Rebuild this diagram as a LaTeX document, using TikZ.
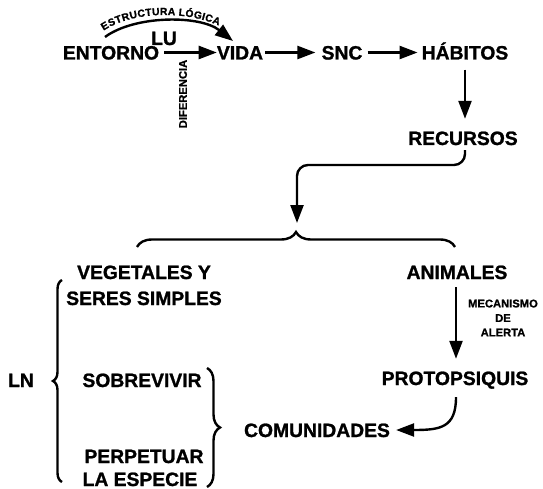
\documentclass[tikz,border=0pt]{standalone}
\usepackage{fontspec}
\setmainfont{Liberation Sans}[BoldFeatures={FakeBold=1.2}]
\usetikzlibrary{arrows.meta,decorations.pathreplacing,decorations.text,calc}
\begin{document}
\begin{tikzpicture}[x=1pt,y=-1pt,
  lbl/.style={font=\fontsize{19.3}{19.3}\selectfont\bfseries, inner sep=0pt, text height=14pt, text depth=0pt},
  small/.style={font=\fontsize{11.2}{14.5}\selectfont\bfseries, inner sep=0pt, align=center},
  arr/.style={line width=2.4pt, -{Triangle[length=18pt,width=13pt]}},
  bracestyle/.style={line width=2.4pt, decorate},
]
\useasboundingbox (0,0) rectangle (543,489);
% top row
\node[lbl] (entorno) at (111,52.5) {ENTORNO};
\node[lbl] (vida) at (240,52.5) {VIDA};
\node[lbl] (snc) at (342,52.5) {SNC};
\node[lbl] (habitos) at (465,52.5) {HÁBITOS};
\node[lbl] (recursos) at (463,138) {RECURSOS};
\node[lbl] (lu) at (164,38) {LU};
\node[small, rotate=90] (dif) at (183,94) {DIFERENCIA};

\draw[arr] ([xshift=5pt]entorno.east) -- (vida.west);
\draw[arr] ([xshift=2pt]vida.east) -- ([xshift=-6pt]snc.west);
\draw[arr] ([xshift=5pt]snc.east) -- ([xshift=-4pt]habitos.west);
\draw[arr] ($(habitos.south)+(0,10)$) -- ($(recursos.north)+(2,-12)$);

% arc with text
\coordinate (arcstart) at (105,37);
\coordinate (arcend) at (233,41);
\draw[arr] (arcstart) .. controls (135,15) and (200,15) .. (arcend);
\path[decorate, decoration={text along path, text align={left indent=2pt}, raise=6pt,
  text={|\fontsize{10.3}{10.3}\selectfont\bfseries|ESTRUCTURA LÓGICA}}]
  (arcstart) .. controls (135,15) and (200,15) .. (arcend);

% recursos to brace
\coordinate (bl) at (137,247);
\coordinate (br) at (455,247);
\coordinate (btip) at (297,223);
\draw[arr, rounded corners=11pt] ($(recursos.south)+(2,5)$) -- (465,165) -- (297,165) -- (btip);
\draw[bracestyle, decoration={brace, amplitude=15pt}] (bl) -- (br);

% left side
\node[lbl] (veg1) at (144,272) {VEGETALES Y};
\node[lbl] (veg2) at (144,298) {SERES SIMPLES};
\node[lbl] (ln) at (21,380) {LN};
\node[lbl] (sob) at (142,380) {SOBREVIVIR};
\node[lbl] (per1) at (144,456) {PERPETUAR};
\node[lbl] (per2) at (140,479) {LA ESPECIE};
\coordinate (lbt) at (62,280);
\coordinate (lbb) at (62,482);
\draw[bracestyle, decoration={brace, amplitude=9pt}] (lbb) -- (lbt);
\coordinate (rbt) at (207,368);
\coordinate (rbb) at (207,487);
\draw[bracestyle, decoration={brace, amplitude=13pt}] (rbt) -- (rbb);
\node[lbl] (com) at (317,430) {COMUNIDADES};

% right side
\node[lbl] (anim) at (457,272) {ANIMALES};
\node[small] (mec) at (503,318) {MECANISMO\\DE\\ALERTA};
\node[lbl] (proto) at (455,378) {PROTOPSIQUIS};
\draw[arr] ($(anim.south)+(-1,8)$) -- ($(proto.north)+(1,-12)$);
\draw[arr] ($(proto.south)+(1,12)$) .. controls (456,428) and (440,430) .. ($(com.east)+(6,0)$);
\end{tikzpicture}
\end{document}
